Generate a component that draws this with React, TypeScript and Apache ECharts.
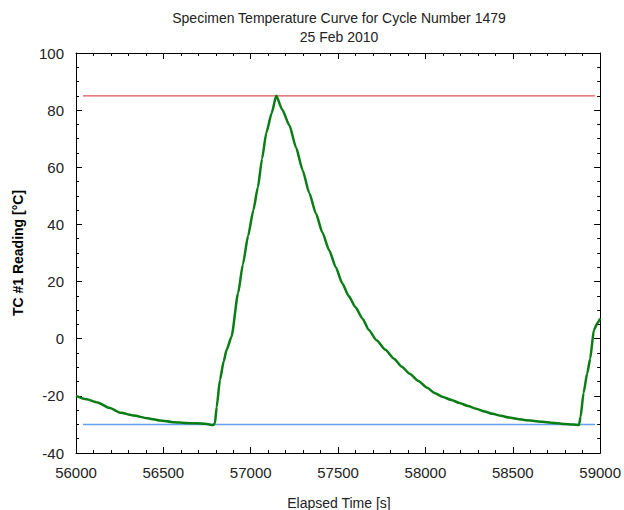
import React, { useEffect, useRef } from "react";
import * as echarts from "echarts";

const titleLines = ["Specimen Temperature Curve for Cycle Number 1479", "25 Feb 2010"];
const xAxisName = "Elapsed Time [s]";
const yAxisName = "TC #1 Reading [°C]";

const elapsedTime = [
  56000, 56060, 56123, 56190, 56256, 56330, 56407, 56480, 56559, 56630, 56691, 56740, 56786,
  56795, 56805, 56824, 56845, 56862, 56890, 56928, 56955, 56985, 57015, 57041, 57065, 57089, 57120, 57146,
  57180, 57222, 57260, 57297, 57335, 57373, 57410, 57449, 57487, 57524, 57560, 57600, 57640, 57676, 57720,
  57771, 57820, 57865, 57910, 57960, 58010, 58055, 58100, 58149, 58195, 58244, 58290, 58339, 58385, 58433,
  58480, 58528, 58575, 58623, 58670, 58718, 58760, 58794, 58840, 58879, 58888, 58905, 58926, 58943, 58964,
  58985, 59000,
];
const tcReading = [
  -20, -21.2, -22.3, -24.2, -25.9, -26.9, -27.8, -28.6, -29.2, -29.5, -29.6, -29.8, -30.2,
  -29.6, -24, -14.4, -8, -3.9, 0.7, 16, 26, 36, 45, 53, 63, 72, 79, 85,
  80.2, 74.6, 66.8, 59, 51, 43.9, 37.2, 31, 25, 19.4, 15, 11, 7, 3.05, -0.5,
  -3.9, -7, -9.8, -12.3, -14.8, -17.2, -19.1, -20.4, -21.45, -22.5, -23.55, -24.5, -25.5, -26.3, -27,
  -27.6, -28.1, -28.5, -28.8, -29.1, -29.4, -29.6, -29.85, -30.0, -30.2, -27.3, -19, -12.1, -7, 3.05,
  5.5, 7.1,
];
const upperLimitTime = [56040, 58970];
const upperLimit = [85, 85];
const lowerLimitTime = [56040, 58970];
const lowerLimit = [-30, -30];

const xMin = 56000, xMax = 59000, xStep = 500;
const yMin = -40, yMax = 100, yStep = 20;

export default function App() {
  const ref = useRef<HTMLDivElement>(null);
  useEffect(() => {
    if (!ref.current) return;
    const chart = echarts.init(ref.current, null, { renderer: "svg" });
    const font = "Liberation Sans, Arial, sans-serif";
    const axisCommon = {
      axisLine: { show: true, onZero: false, lineStyle: { color: "#000", width: 1 } },
      axisTick: { show: true, inside: true, length: 6, lineStyle: { color: "#000" } },
      splitLine: { show: false },
      minorSplitLine: { show: false },
    };
    const minorTick = { show: true, length: 3, lineStyle: { color: "#000" } };
    const plain = (v: number) => String(v);
    chart.setOption({
      animation: false,
      backgroundColor: "#fff",
      grid: { left: 76, right: 21, top: 53, bottom: 57, containLabel: false },
      xAxis: [
        {
          type: "value", position: "bottom", min: xMin, max: xMax, interval: xStep,
          ...axisCommon, minorTick: { ...minorTick, splitNumber: 5 },
          axisLabel: { color: "#222", fontSize: 15, fontFamily: font, margin: 12, formatter: plain },
        },
        {
          type: "value", position: "top", min: xMin, max: xMax, interval: xStep,
          ...axisCommon, minorTick: { ...minorTick, splitNumber: 5 },
          axisLabel: { show: false },
        },
      ],
      yAxis: [
        {
          type: "value", position: "left", min: yMin, max: yMax, interval: yStep,
          ...axisCommon, minorTick: { ...minorTick, splitNumber: 4 },
          axisLabel: { color: "#222", fontSize: 15, fontFamily: font, margin: 12, formatter: plain },
        },
        {
          type: "value", position: "right", min: yMin, max: yMax, interval: yStep,
          ...axisCommon, minorTick: { ...minorTick, splitNumber: 4 },
          axisLabel: { show: false },
        },
      ],
      graphic: [
        {
          type: "text", x: 339, y: 18,
          style: { text: titleLines[0], fill: "#222", fontSize: 14, fontFamily: font, align: "center", verticalAlign: "middle" },
        },
        {
          type: "text", x: 339, y: 37,
          style: { text: titleLines[1], fill: "#222", fontSize: 14, fontFamily: font, align: "center", verticalAlign: "middle" },
        },
        {
          type: "text", x: 339, y: 503,
          style: { text: xAxisName, fill: "#222", fontSize: 14, fontFamily: font, align: "center", verticalAlign: "middle" },
        },
        {
          type: "text", x: 18, y: 253, rotation: Math.PI / 2,
          style: { text: yAxisName, fill: "#000", fontSize: 14, fontWeight: "bold", fontFamily: font, align: "center", verticalAlign: "middle" },
        },
      ],
      series: [
        {
          type: "line", xAxisIndex: 0, yAxisIndex: 0, symbol: "none",
          data: upperLimitTime.map((t, i) => [t, upperLimit[i]]),
          lineStyle: { color: "#e0505a", width: 1.2 },
        },
        {
          type: "line", xAxisIndex: 0, yAxisIndex: 0, symbol: "none",
          data: lowerLimitTime.map((t, i) => [t, lowerLimit[i]]),
          lineStyle: { color: "#6a9ef0", width: 1.5 },
        },
        {
          type: "line", xAxisIndex: 0, yAxisIndex: 0, symbol: "none", smooth: 0.2, smoothMonotone: "x",
          data: elapsedTime.map((t, i) => [t, tcReading[i]]),
          lineStyle: { color: "#0a7d14", width: 2.5 },
        },
      ],
    });
    return () => chart.dispose();
  }, []);
  return <div ref={ref} style={{ width: 624, height: 510, position: "absolute", left: 0, top: 0 }} />;
}
